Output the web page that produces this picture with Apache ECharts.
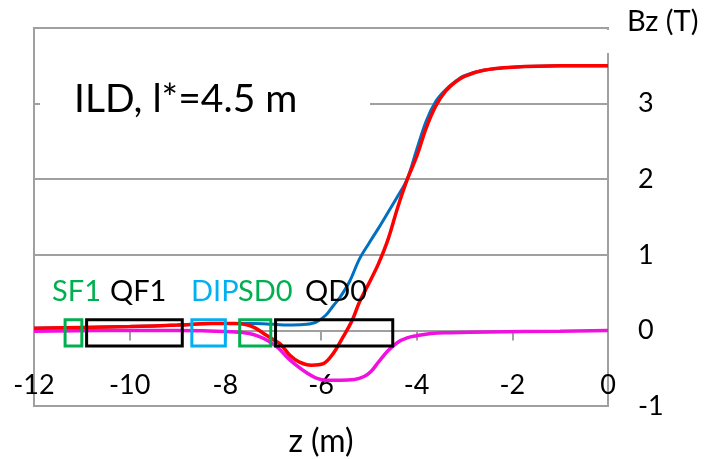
<!DOCTYPE html>
<html>
<head>
<meta charset="utf-8">
<script src="https://cdn.jsdelivr.net/npm/echarts@6/dist/echarts.min.js"></script>
<style>html,body{margin:0;padding:0;background:#fff}#c{width:704px;height:459px}</style>
</head>
<body>
<div id="c"></div>
<script>
// Blue curve (Bz along z)
const blueZ = [-12, -11, -10, -9, -8.3, -7.8, -7.4, -7.0, -6.6, -6.3, -6.1, -5.9, -5.75, -5.6, -5.4, -5.2, -5.0, -4.8, -4.6, -4.4, -4.2, -4.0, -3.8, -3.6, -3.4, -3.2, -3.0, -2.6, -2.0, -1.0, 0];
const blueB = [0.03, 0.04, 0.05, 0.07, 0.09, 0.09, 0.09, 0.08, 0.07, 0.08, 0.11, 0.20, 0.32, 0.44, 0.65, 0.94, 1.15, 1.35, 1.56, 1.77, 2.00, 2.39, 2.77, 3.03, 3.18, 3.29, 3.37, 3.44, 3.48, 3.50, 3.50];
// Red curve
const redZ = [-12, -11, -10, -9, -8.3, -7.8, -7.6, -7.4, -7.2, -7.0, -6.85, -6.65, -6.45, -6.2, -5.95, -5.75, -5.55, -5.35, -5.2, -5.0, -4.8, -4.6, -4.4, -4.2, -4.0, -3.8, -3.6, -3.4, -3.2, -3.0, -2.6, -2.0, -1.0, 0];
const redB = [0.03, 0.04, 0.05, 0.07, 0.09, 0.09, 0.08, 0.04, -0.04, -0.12, -0.18, -0.33, -0.42, -0.46, -0.44, -0.31, -0.10, 0.13, 0.37, 0.62, 0.88, 1.20, 1.62, 1.99, 2.30, 2.68, 2.97, 3.16, 3.28, 3.36, 3.44, 3.48, 3.50, 3.50];
// Magenta curve
const magZ = [-12, -10, -9, -7.8, -7.5, -7.3, -7.1, -6.9, -6.7, -6.5, -6.3, -6.1, -5.9, -5.6, -5.3, -5.1, -4.95, -4.8, -4.6, -4.4, -4.2, -4.0, -3.7, -3.3, -2.5, -1.0, 0];
const magB = [-0.01, 0.0, 0.0, -0.02, -0.04, -0.08, -0.14, -0.23, -0.36, -0.47, -0.56, -0.63, -0.66, -0.66, -0.65, -0.61, -0.54, -0.42, -0.27, -0.16, -0.10, -0.07, -0.04, -0.03, -0.02, -0.01, 0.0];

// Magnet boxes
const boxNames = ['SF1', 'QF1', 'DIP', 'SD0', 'QD0'];
const boxStart = [-11.35, -10.9, -8.7, -7.7, -6.95];
const boxEnd = [-11.0, -8.9, -8.0, -7.05, -4.5];
const boxLow = -0.205;
const boxHigh = 0.14;
const boxColors = ['#00b050', '#000000', '#00b0f0', '#00b050', '#000000'];

const xTicks = [-12, -10, -8, -6, -4, -2, 0];
const yTicks = [-1, 0, 1, 2, 3];

const zip = (a, b) => a.map((v, i) => [v, b[i]]);
const FONT = 'Lato';

const chart = echarts.init(document.getElementById('c'), null, {renderer: 'canvas'});
const option = {
  animation: false,
  backgroundColor: '#fff',
  grid: {left: 34, right: 96, top: 28, bottom: 53, containLabel: false, outerBoundsMode: 'none',
    show: true, borderColor: '#a0a0a0', borderWidth: 2, backgroundColor: 'transparent'},
  xAxis: {
    type: 'value', min: -12, max: 0, interval: 2,
    axisLine: {show: true, onZero: true, lineStyle: {color: '#a0a0a0', width: 2}},
    axisTick: {show: true, length: 10, lineStyle: {color: '#a0a0a0', width: 2}},
    axisLabel: {show: true, margin: -34, fontFamily: FONT, fontSize: 27, color: '#000',
      formatter: v => xTicks.includes(v) ? String(v) : ''},
    splitLine: {show: false},
    name: 'z (m)', nameLocation: 'middle', nameGap: 20,
    nameTextStyle: {fontFamily: FONT, fontSize: 32, color: '#000'}
  },
  yAxis: {
    type: 'value', min: -1, max: 4, interval: 1, position: 'right',
    axisLine: {show: true, onZero: false, lineStyle: {color: '#a0a0a0', width: 2}},
    axisTick: {show: false},
    axisLabel: {show: true, margin: 30, fontFamily: FONT, fontSize: 27, color: '#000',
      formatter: v => yTicks.includes(v) ? String(v) : ''},
    splitLine: {show: true, lineStyle: {color: '#a0a0a0', width: 2}}
  },
  graphic: [
    {type: 'rect', z: 10, shape: {x: 40, y: 76, width: 330, height: 54}, style: {fill: '#fff'}},
    {type: 'text', z: 11, left: 74, top: 80, style: {text: 'ILD, l*=4.5 m', fontFamily: FONT, fontSize: 39, fill: '#000'}},
    {type: 'rect', z: 10, shape: {x: 605, y: 30, width: 6, height: 23}, style: {fill: '#fff'}},
    {type: 'text', z: 11, left: 627, top: 7, style: {text: 'Bz (T)', fontFamily: FONT, fontSize: 29, fill: '#000'}},
    {type: 'text', z: 11, left: 52, top: 277, style: {text: 'SF1', fontFamily: FONT, fontSize: 29, fill: '#00b050'}},
    {type: 'text', z: 11, left: 110, top: 277, style: {text: 'QF1', fontFamily: FONT, fontSize: 29, fill: '#000'}},
    {type: 'text', z: 11, left: 191, top: 277, style: {text: 'DIP', fontFamily: FONT, fontSize: 29, fill: '#00b0f0'}},
    {type: 'text', z: 11, left: 238, top: 277, style: {text: 'SD0', fontFamily: FONT, fontSize: 29, fill: '#00b050'}},
    {type: 'text', z: 11, left: 305, top: 277, style: {text: 'QD0', fontFamily: FONT, fontSize: 29, fill: '#000'}}
  ],
  series: [
    {type: 'line', data: zip(blueZ, blueB), smooth: 0.35, symbol: 'none', lineStyle: {color: '#0070c0', width: 3}, z: 2},
    {type: 'line', data: zip(magZ, magB), smooth: 0.4, symbol: 'none', lineStyle: {color: '#f010e0', width: 3.5}, z: 3},
    {type: 'line', data: zip(redZ, redB), smooth: 0.35, symbol: 'none', lineStyle: {color: '#ff0000', width: 3.5}, z: 4},
    {
      type: 'custom', z: 5,
      data: boxNames.map((n, i) => [boxStart[i], boxEnd[i], boxLow, boxHigh, i]),
      renderItem: (params, api) => {
        const p0 = api.coord([api.value(0), api.value(3)]);
        const p1 = api.coord([api.value(1), api.value(2)]);
        const i = api.value(4);
        return {type: 'rect', shape: {x: p0[0], y: p0[1], width: p1[0] - p0[0], height: p1[1] - p0[1]},
          style: {fill: 'none', stroke: boxColors[i], lineWidth: 3}};
      }
    }
  ]
};
chart.setOption(option);
</script>
</body>
</html>
